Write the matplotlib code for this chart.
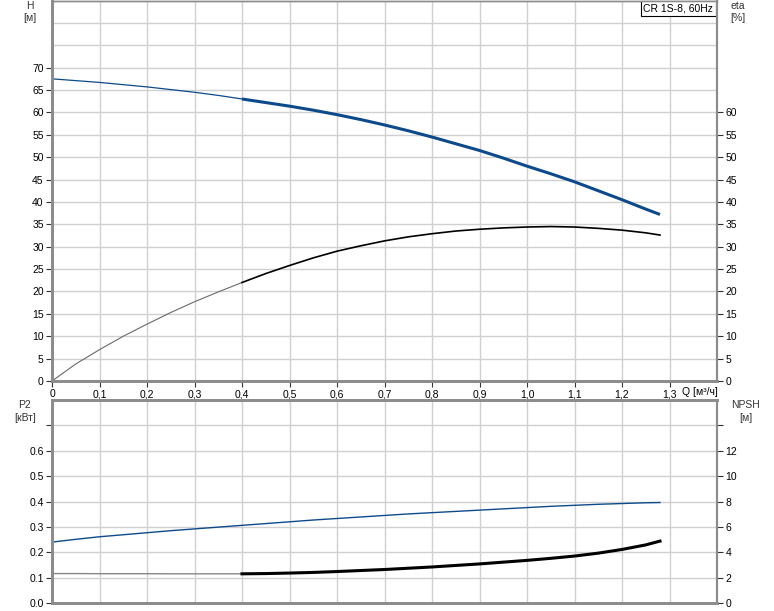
import matplotlib
matplotlib.use('Agg')
from matplotlib import pyplot as plt

plt.rcParams['font.family'] = ['Liberation Sans', 'DejaVu Sans']
plt.rcParams['font.size'] = 7.5

# flow points (m3/h)
q = [0.0, 0.05, 0.1, 0.15, 0.2, 0.25, 0.3, 0.35, 0.4, 0.45, 0.5, 0.55, 0.6, 0.65,
     0.7, 0.75, 0.8, 0.85, 0.9, 0.95, 1.0, 1.05, 1.1, 1.15, 1.2, 1.25, 1.28]
head = [67.5, 67.1, 66.7, 66.2, 65.7, 65.1, 64.5, 63.8, 63.0, 62.2, 61.4, 60.5, 59.5, 58.4,
        57.2, 55.9, 54.5, 53.0, 51.5, 49.8, 48.0, 46.3, 44.5, 42.5, 40.5, 38.4, 37.2]
eta = [0.0, 3.8, 7.0, 10.0, 12.7, 15.3, 17.7, 19.9, 22.0, 24.0, 25.8, 27.5, 29.0, 30.2,
       31.3, 32.2, 32.9, 33.5, 33.9, 34.2, 34.4, 34.5, 34.4, 34.1, 33.7, 33.1, 32.6]
p2 = [0.240, 0.251, 0.261, 0.269, 0.277, 0.285, 0.292, 0.299, 0.306, 0.313, 0.320, 0.327, 0.333, 0.339,
      0.345, 0.351, 0.356, 0.361, 0.366, 0.371, 0.376, 0.381, 0.385, 0.389, 0.392, 0.395, 0.396]
npsh = [2.32, 2.32, 2.31, 2.31, 2.31, 2.30, 2.30, 2.30, 2.30, 2.32, 2.36, 2.41, 2.48, 2.56,
        2.64, 2.74, 2.84, 2.96, 3.08, 3.22, 3.36, 3.52, 3.70, 3.93, 4.22, 4.58, 4.88]

blue = '#0d4a8c'
grid_c = '#d0d0d0'
spine_c = '#8c8c8c'
split = 8  # index of Q=0.4 where curves get thicker

fig = plt.figure(figsize=(7.74, 6.11), dpi=100)
W, Hp = 774, 611

def box(l, t, r, b):
    return [l / W, 1 - b / Hp, (r - l) / W, (b - t) / Hp]

#----- top panel: head and efficiency
ax = fig.add_axes(box(52, 0.5, 717, 381))
ax.set_xlim(0, 1.4)
ax.set_ylim(0, 85)
ax.set_xticks([i / 10 for i in range(14)])
ax.set_xticklabels(['0'] + [('%.1f' % (i / 10)).replace('.', ',') for i in range(1, 14)])
ax.set_yticks(range(0, 75, 5))
for v in range(0, 85, 5):
    ax.axhline(v, color=grid_c, lw=1, zorder=0)
for i in range(1, 14):
    ax.axvline(i / 10, color=grid_c, lw=1, zorder=0)

ax.plot(q[:split + 1], head[:split + 1], color=blue, lw=0.9)
ax.plot(q[split:], head[split:], color=blue, lw=2.2, solid_capstyle='butt')
ax.plot(q[:split + 1], eta[:split + 1], color='#6a6a6a', lw=0.8)
ax.plot(q[split:], eta[split:], color='black', lw=1.2)

ax2 = ax.twinx()
ax2.set_ylim(0, 85)
ax2.set_yticks(range(0, 65, 5))

for a in (ax, ax2):
    for s in a.spines.values():
        s.set_color(spine_c)
    a.spines['left'].set_linewidth(2)
    a.spines['bottom'].set_linewidth(2)
    a.spines['right'].set_linewidth(1.5)
    a.spines['top'].set_linewidth(1)
    a.tick_params(length=4, width=0.8, color='#333333', pad=2)

ax.text(0.994, 0.993, 'CR 1S-8, 60Hz', transform=ax.transAxes, ha='right', va='top',
        bbox=dict(boxstyle='square,pad=0.25', fc='white', ec='black', lw=0.8))
ax.text(1.326, -0.0285, 'Q [м³/ч]', transform=ax.get_xaxis_transform(), ha='left', va='center')

#----- bottom panel: power and NPSH
bx = fig.add_axes(box(52, 400, 717, 603))
bx.set_xlim(0, 1.4)
bx.set_ylim(0, 0.8)
bx.set_xticks([])
bx.set_yticks([i / 10 for i in range(8)])
bx.set_yticklabels(['%.1f' % (i / 10) for i in range(7)] + [''])
for i in range(1, 8):
    bx.axhline(i / 10, color=grid_c, lw=1, zorder=0)
for i in range(1, 14):
    bx.axvline(i / 10, color=grid_c, lw=1, zorder=0)

bx.plot(q, p2, color=blue, lw=1.0)

bx2 = bx.twinx()
bx2.set_ylim(0, 16)
bx2.set_yticks(range(0, 16, 2))
bx2.set_yticklabels([str(v) for v in range(0, 14, 2)] + [''])
bx2.plot(q[:split + 1], npsh[:split + 1], color='#888888', lw=1.0)
bx2.plot(q[split:], npsh[split:], color='black', lw=2.2)

for a in (bx, bx2):
    for s in a.spines.values():
        s.set_color(spine_c)
    a.spines['left'].set_linewidth(2)
    a.spines['bottom'].set_linewidth(2)
    a.spines['right'].set_linewidth(1.5)
    a.spines['top'].set_linewidth(2)
    a.tick_params(length=4, width=0.8, color='#333333', pad=2)

#----- axis captions
lab = dict(ha='center', va='center', color='#333333')
fig.text(30 / W, 1 - 6 / Hp, 'H', **lab)
fig.text(30 / W, 1 - 18 / Hp, '[м]', **lab)
fig.text(738 / W, 1 - 6 / Hp, 'eta', **lab)
fig.text(738 / W, 1 - 18 / Hp, '[%]', **lab)
fig.text(25 / W, 1 - 405 / Hp, 'P2', **lab)
fig.text(25 / W, 1 - 418 / Hp, '[кВт]', **lab)
fig.text(746 / W, 1 - 405 / Hp, 'NPSH', **lab)
fig.text(746 / W, 1 - 418 / Hp, '[м]', **lab)

fig.savefig('out.png', dpi=100)
